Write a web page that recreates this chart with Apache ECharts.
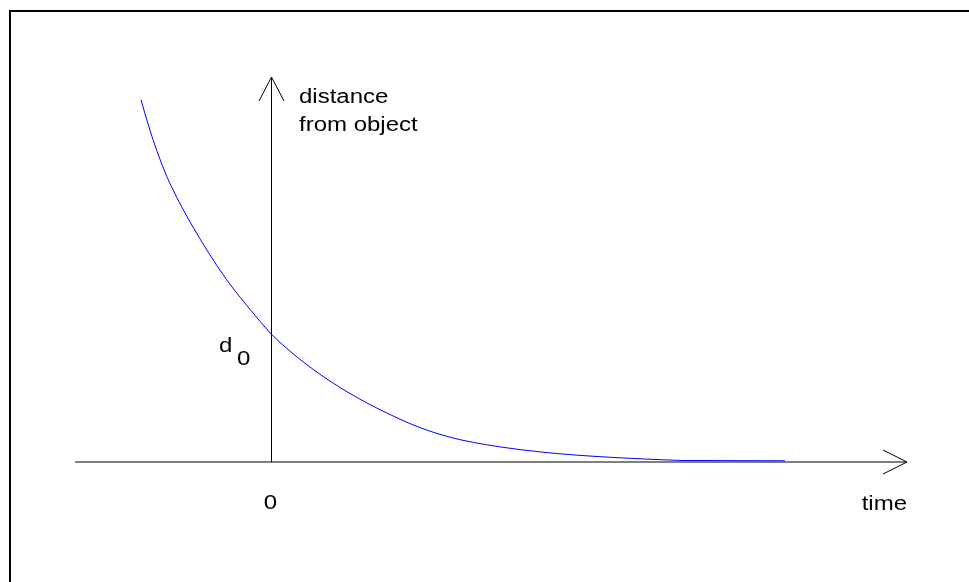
<!DOCTYPE html>
<html>
<head>
<meta charset="utf-8">
<title>distance from object over time</title>
<script src="https://cdn.jsdelivr.net/npm/echarts@6/dist/echarts.min.js"></script>
<style>
  html, body { margin: 0; padding: 0; background: #ffffff; }
  #chart { width: 969px; height: 582px; }
</style>
</head>
<body>
<div id="chart"></div>
<script>
// Decay of the distance to the object; time 0 is where the distance equals d0.
const time = [-1.295, -1.255, -1.205, -1.172, -1.138, -1.088, -1.038, -1.005, -0.938, -0.872,
  -0.805, -0.705, -0.622, -0.538, -0.438, -0.355, -0.205, -0.105, 0, 0.095,
  0.195, 0.295, 0.395, 0.495, 0.595, 0.695, 0.795, 0.895, 0.995, 1.095,
  1.195, 1.295, 1.395, 1.495, 1.595, 1.695, 1.795, 1.895, 2.028, 2.162,
  2.295, 2.495, 2.695, 2.895, 3.095, 3.295, 3.495, 3.695, 3.895, 4.125, 5.145];
const distance = [3.622, 3.482, 3.317, 3.215, 3.116, 2.981, 2.858, 2.784, 2.647, 2.522,
  2.401, 2.231, 2.097, 1.967, 1.822, 1.710, 1.527, 1.407, 1.286, 1.196,
  1.108, 1.026, 0.949, 0.877, 0.809, 0.745, 0.685, 0.628, 0.574, 0.523,
  0.475, 0.428, 0.384, 0.344, 0.308, 0.276, 0.248, 0.223, 0.196, 0.172,
  0.151, 0.124, 0.101, 0.082, 0.066, 0.053, 0.042, 0.032, 0.023, 0.015, 0.012];

// Extent of the drawn axes (arrow tips)
const timeRange = [-1.955, 6.365];
const distanceRange = [0, 3.85];

// Axis texts
const xAxisName = 'time';
const yAxisName = ['distance', 'from object'];
const originLabel = '0';
const d0Symbol = 'd';
const d0Subscript = '0';

const FONT = '"Liberation Sans", Arial, Helvetica, sans-serif';
const STRETCH = 1.2;

function label(text, x, y, align) {
  return {
    type: 'text',
    x: x, y: y,
    scaleX: STRETCH,
    style: {
      text: text,
      fill: '#000000',
      fontSize: 20,
      fontFamily: FONT,
      align: align,
      verticalAlign: 'middle'
    }
  };
}

function renderAxes(params, api) {
  const origin = api.coord([0, 0]);
  const xStart = api.coord([timeRange[0], 0]);
  const xEnd = api.coord([timeRange[1], 0]);
  const yEnd = api.coord([0, distanceRange[1]]);
  const d0 = api.coord([0, distance[time.indexOf(0)]]);
  const ax = Math.round(origin[0]) + 0.5;
  const line = { stroke: '#000000', lineWidth: 1, fill: null };
  return {
    type: 'group',
    children: [
      // horizontal time axis with open arrow head
      { type: 'line', shape: { x1: xStart[0], y1: xEnd[1], x2: xEnd[0], y2: xEnd[1] }, style: line },
      { type: 'polyline', shape: { points: [[xEnd[0] - 24, xEnd[1] - 12], [xEnd[0], xEnd[1]], [xEnd[0] - 24, xEnd[1] + 12]] }, style: line },
      // vertical distance axis with open arrow head
      { type: 'line', shape: { x1: ax, y1: origin[1], x2: ax, y2: yEnd[1] }, style: line },
      { type: 'polyline', shape: { points: [[ax - 12.5, yEnd[1] + 24], [ax, yEnd[1]], [ax + 12.5, yEnd[1] + 24]] }, style: line },
      // texts
      label(yAxisName[0], ax + 27.5, yEnd[1] + 20, 'left'),
      label(yAxisName[1], ax + 27.5, yEnd[1] + 48, 'left'),
      label(xAxisName, xEnd[0], origin[1] + 42, 'right'),
      label(originLabel, ax - 1, origin[1] + 41, 'center'),
      label(d0Symbol, ax - 52.5, d0[1] + 13, 'left'),
      label(d0Subscript, ax - 34.5, d0[1] + 26, 'left')
    ]
  };
}

const chart = echarts.init(document.getElementById('chart'), null, { renderer: 'canvas' });
chart.setOption({
  animation: false,
  backgroundColor: '#ffffff',
  grid: { left: 75, right: 62, top: 77, bottom: 120 },
  xAxis: {
    type: 'value', min: timeRange[0], max: timeRange[1], show: false
  },
  yAxis: {
    type: 'value', min: distanceRange[0], max: distanceRange[1], show: false
  },
  graphic: [{
    type: 'polyline',
    shape: { points: [[10, 582], [10, 11], [969, 11]] },
    style: { stroke: '#000000', lineWidth: 2, fill: null },
    silent: true
  }],
  series: [
    {
      type: 'custom',
      coordinateSystem: 'cartesian2d',
      data: [[0, 0]],
      renderItem: renderAxes,
      clip: false,
      silent: true,
      z: 1
    },
    {
      type: 'line',
      data: time.map((t, i) => [t, distance[i]]),
      showSymbol: false,
      smooth: false,
      lineStyle: { color: '#0000ff', width: 1 },
      silent: true,
      z: 3
    }
  ]
});
</script>
</body>
</html>
